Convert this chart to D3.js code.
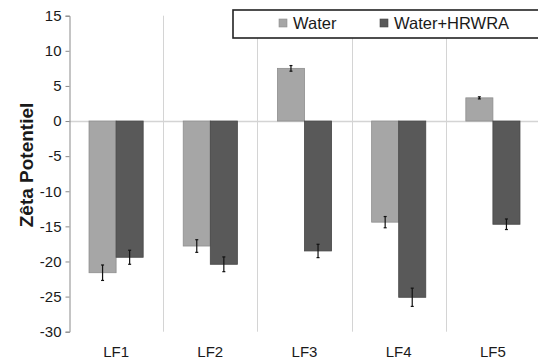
<!DOCTYPE html>
<html>
<head>
<meta charset="utf-8">
<script src="https://cdn.jsdelivr.net/npm/d3@7"></script>
<style>
  html, body { margin: 0; padding: 0; background: #fff; }
  svg { display: block; font-family: "Liberation Sans", Arial, sans-serif; }
</style>
</head>
<body>
<svg id="chart" width="538" height="362"></svg>
<script>
// Zeta potential per formulation, with and without HRWRA
const categories = ["LF1", "LF2", "LF3", "LF4", "LF5"];
const seriesNames = ["Water", "Water+HRWRA"];
const waterValues = [-21.6, -17.8, 7.5, -14.4, 3.3];
const waterErrors = [1.1, 0.9, 0.4, 0.8, 0.15];
const hrwraValues = [-19.4, -20.4, -18.5, -25.1, -14.7];
const hrwraErrors = [1.0, 1.05, 0.95, 1.3, 0.75];
const yTicks = [15, 10, 5, 0, -5, -10, -15, -20, -25, -30];
const seriesColors = ["#a6a6a6", "#595959"];
const seriesStrokes = ["#8e8e8e", "#464646"];

const svg = d3.select("#chart");
const left = 69;
const plotW = 540 - left;
const x = d3.scaleBand().domain(categories).range([left, left + plotW]).paddingInner(0).paddingOuter(0);
const y = d3.scaleLinear().domain([-30, 15]).range([331.7, 15.7]);
const xs = d3.scaleBand().domain(seriesNames).range([0, x.bandwidth()]).paddingInner(0).paddingOuter(0.74);

// vertical separators between categories
svg.append("g").selectAll("line")
  .data(categories)
  .enter().append("line")
  .attr("x1", d => Math.round(x(d) + x.bandwidth()) + 0.5)
  .attr("x2", d => Math.round(x(d) + x.bandwidth()) + 0.5)
  .attr("y1", y(15)).attr("y2", y(-30))
  .attr("stroke", "#d4d4d4").attr("stroke-width", 1);

// zero line
svg.append("line")
  .attr("x1", left).attr("x2", 538)
  .attr("y1", Math.round(y(0)) + 0.5).attr("y2", Math.round(y(0)) + 0.5)
  .attr("stroke", "#d4d4d4").attr("stroke-width", 1.5);

const rows = categories.map((c, i) => ({
  cat: c,
  items: [
    { s: seriesNames[0], v: waterValues[i], e: waterErrors[i], k: 0 },
    { s: seriesNames[1], v: hrwraValues[i], e: hrwraErrors[i], k: 1 }
  ]
}));

const groups = svg.append("g").selectAll("g")
  .data(rows).enter().append("g")
  .attr("transform", d => `translate(${x(d.cat)},0)`);

groups.selectAll("rect")
  .data(d => d.items).enter().append("rect")
  .attr("x", d => xs(d.s))
  .attr("width", xs.bandwidth())
  .attr("y", d => Math.min(y(d.v), y(0)))
  .attr("height", d => Math.abs(y(d.v) - y(0)))
  .attr("fill", d => seriesColors[d.k])
  .attr("stroke", d => seriesStrokes[d.k])
  .attr("stroke-width", 0.8);

// error bars
const eb = groups.selectAll("g.err")
  .data(d => d.items).enter().append("g").attr("class", "err")
  .attr("stroke", "#111").attr("stroke-width", 1.2);
const cx = d => xs(d.s) + xs.bandwidth() / 2;
eb.append("line")
  .attr("x1", cx).attr("x2", cx)
  .attr("y1", d => y(d.v + d.e)).attr("y2", d => y(d.v - d.e));
eb.append("line")
  .attr("x1", d => cx(d) - 1.5).attr("x2", d => cx(d) + 1.5)
  .attr("y1", d => y(d.v + d.e)).attr("y2", d => y(d.v + d.e));
eb.append("line")
  .attr("x1", d => cx(d) - 1.5).attr("x2", d => cx(d) + 1.5)
  .attr("y1", d => y(d.v - d.e)).attr("y2", d => y(d.v - d.e));

// y axis
const yAxis = svg.append("g")
  .attr("transform", `translate(${left + 0.5},0)`)
  .call(d3.axisLeft(y).tickValues(yTicks).tickSize(4).tickPadding(4)
    .tickFormat(d => String(d)));
yAxis.select(".domain").attr("stroke", "#8a8a8a");
yAxis.selectAll(".tick line").attr("stroke", "#8a8a8a");
yAxis.selectAll(".tick text").attr("font-size", 15).attr("fill", "#1a1a1a")
  .attr("font-family", "'Liberation Sans', Arial, sans-serif");

// x category labels
svg.append("g").selectAll("text")
  .data(categories).enter().append("text")
  .attr("x", d => x(d) + x.bandwidth() / 2)
  .attr("y", 357)
  .attr("text-anchor", "middle")
  .attr("font-size", 15).attr("fill", "#1a1a1a")
  .text(d => d);

// y title
svg.append("text")
  .attr("transform", "translate(33,165) rotate(-90)")
  .attr("text-anchor", "middle")
  .attr("font-size", 19).attr("font-weight", "bold").attr("fill", "#1a1a1a")
  .text("Zêta Potentiel");

// legend
const lg = svg.append("g");
lg.append("rect")
  .attr("x", 233).attr("y", 10).attr("width", 310).attr("height", 28)
  .attr("fill", "#fff").attr("stroke", "#222").attr("stroke-width", 1.6);
const legendX = [279, 380];
seriesNames.forEach((s, i) => {
  lg.append("rect")
    .attr("x", legendX[i]).attr("y", 19).attr("width", 8).attr("height", 8)
    .attr("fill", seriesColors[i]).attr("stroke", seriesStrokes[i]).attr("stroke-width", 0.6);
  lg.append("text")
    .attr("x", legendX[i] + 14).attr("y", 29)
    .attr("font-size", 16.5).attr("fill", "#1a1a1a")
    .text(s);
});
</script>
</body>
</html>
